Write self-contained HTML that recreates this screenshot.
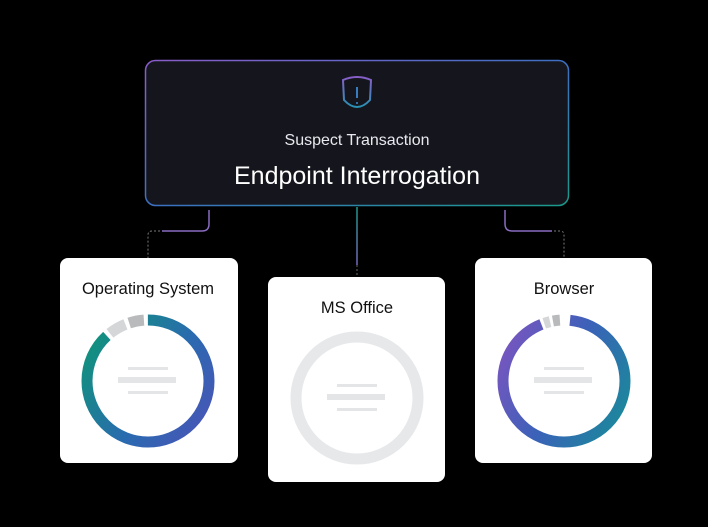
<!DOCTYPE html>
<html><head><style>
body{margin:0;background:#000;width:708px;height:522px;overflow:hidden;font-family:"Liberation Sans",sans-serif;}
</style></head><body>
<svg width="708" height="522" viewBox="0 0 708 522" xmlns="http://www.w3.org/2000/svg">
<defs>
<linearGradient id="bd" x1="0" y1="0" x2="1" y2="1">
<stop offset="0" stop-color="#8a5cc9"/><stop offset="0.5" stop-color="#3d6fc2"/><stop offset="1" stop-color="#1a9a8a"/></linearGradient>
<linearGradient id="rg" gradientUnits="userSpaceOnUse" x1="168" y1="314" x2="81" y2="448">
<stop offset="0" stop-color="#12907f"/><stop offset="0.5" stop-color="#2a6ab0"/><stop offset="1" stop-color="#5050b8"/></linearGradient>
<linearGradient id="rg2" gradientUnits="userSpaceOnUse" x1="597" y1="314" x2="531" y2="448">
<stop offset="0" stop-color="#7a55c0"/><stop offset="0.5" stop-color="#3a62b8"/><stop offset="1" stop-color="#1a8a9a"/></linearGradient>
<linearGradient id="vl" gradientUnits="userSpaceOnUse" x1="0" y1="207" x2="0" y2="277">
<stop offset="0" stop-color="#1a9a8a"/><stop offset="1" stop-color="#8a5cc9"/></linearGradient>
<linearGradient id="sh" gradientUnits="userSpaceOnUse" x1="0" y1="76" x2="0" y2="112">
<stop offset="0" stop-color="#8a5cc9"/><stop offset="1" stop-color="#1a9ab0"/></linearGradient>
</defs>
<rect x="145.5" y="60.5" width="423" height="145" rx="10" fill="#15161d" stroke="url(#bd)" stroke-width="1.5"/>
<path d="M343 80 q14 -6 28 0 l-1 20 q-13 14 -26 0z" fill="none" stroke="url(#sh)" stroke-width="2"/>
<line x1="357" y1="87" x2="357" y2="98" stroke="#3d8bd0" stroke-width="1.8"/>
<circle cx="357" cy="103" r="1" fill="#3d8bd0"/>
<text x="357" y="145" fill="#e8e8ee" font-size="16" text-anchor="middle">Suspect Transaction</text>
<text x="357" y="184" fill="#fff" font-size="25" text-anchor="middle">Endpoint Interrogation</text>
<!-- connectors -->
<path d="M357 207 V265" stroke="url(#vl)" stroke-width="1.5" fill="none"/>
<line x1="357" y1="265" x2="357" y2="277" stroke="#666" stroke-width="1" stroke-dasharray="2 2"/>
<path d="M209 210 v14 q0 7 -7 7 h-40" fill="none" stroke="#8a6cc0" stroke-width="1.5"/>
<path d="M160 231 h-8 q-4 0 -4 4 v23" fill="none" stroke="#777" stroke-width="1" stroke-dasharray="2 2"/>
<path d="M505 210 v14 q0 7 7 7 h40" fill="none" stroke="#8a6cc0" stroke-width="1.5"/>
<path d="M554 231 h6 q4 0 4 4 v23" fill="none" stroke="#777" stroke-width="1" stroke-dasharray="2 2"/>
<!-- cards -->
<rect x="60" y="258" width="178" height="205" rx="8" fill="#fff"/>
<rect x="268" y="277" width="177" height="205" rx="8" fill="#fff"/>
<rect x="475" y="258" width="177" height="205" rx="8" fill="#fff"/>
<text x="148" y="294" font-size="16.5" text-anchor="middle" fill="#111">Operating System</text>
<text x="357" y="313" font-size="16.5" text-anchor="middle" fill="#111">MS Office</text>
<text x="564" y="294" font-size="16.5" text-anchor="middle" fill="#111">Browser</text>
<g transform="rotate(-90 148 381)">
<circle cx="148" cy="381" r="61" fill="none" stroke="url(#rg)" stroke-width="11" stroke-dasharray="338 45"/>
<circle cx="148" cy="381" r="61" fill="none" stroke="#d4d6d8" stroke-width="11" stroke-dasharray="0 342 18 383"/>
<circle cx="148" cy="381" r="61" fill="none" stroke="#b8babc" stroke-width="11" stroke-dasharray="0 364 15 383"/>
</g>
<g transform="rotate(-90 564 381)">
<circle cx="564" cy="381" r="61" fill="none" stroke="url(#rg2)" stroke-width="11" stroke-dasharray="0 6 354 383"/>
<circle cx="564" cy="381" r="61" fill="none" stroke="#d4d6d8" stroke-width="11" stroke-dasharray="0 363 6 383"/>
<circle cx="564" cy="381" r="61" fill="none" stroke="#b8babc" stroke-width="11" stroke-dasharray="0 372 7 383"/>
</g>
<circle cx="357" cy="398" r="61" fill="none" stroke="#e6e8ea" stroke-width="11"/>
<g fill="#e4e5e7">
<rect x="128" y="367" width="40" height="3"/><rect x="118" y="377" width="58" height="6"/><rect x="128" y="391" width="40" height="3"/>
<rect x="337" y="384" width="40" height="3"/><rect x="327" y="394" width="58" height="6"/><rect x="337" y="408" width="40" height="3"/>
<rect x="544" y="367" width="40" height="3"/><rect x="534" y="377" width="58" height="6"/><rect x="544" y="391" width="40" height="3"/>
</g>
</svg>
</body></html>
